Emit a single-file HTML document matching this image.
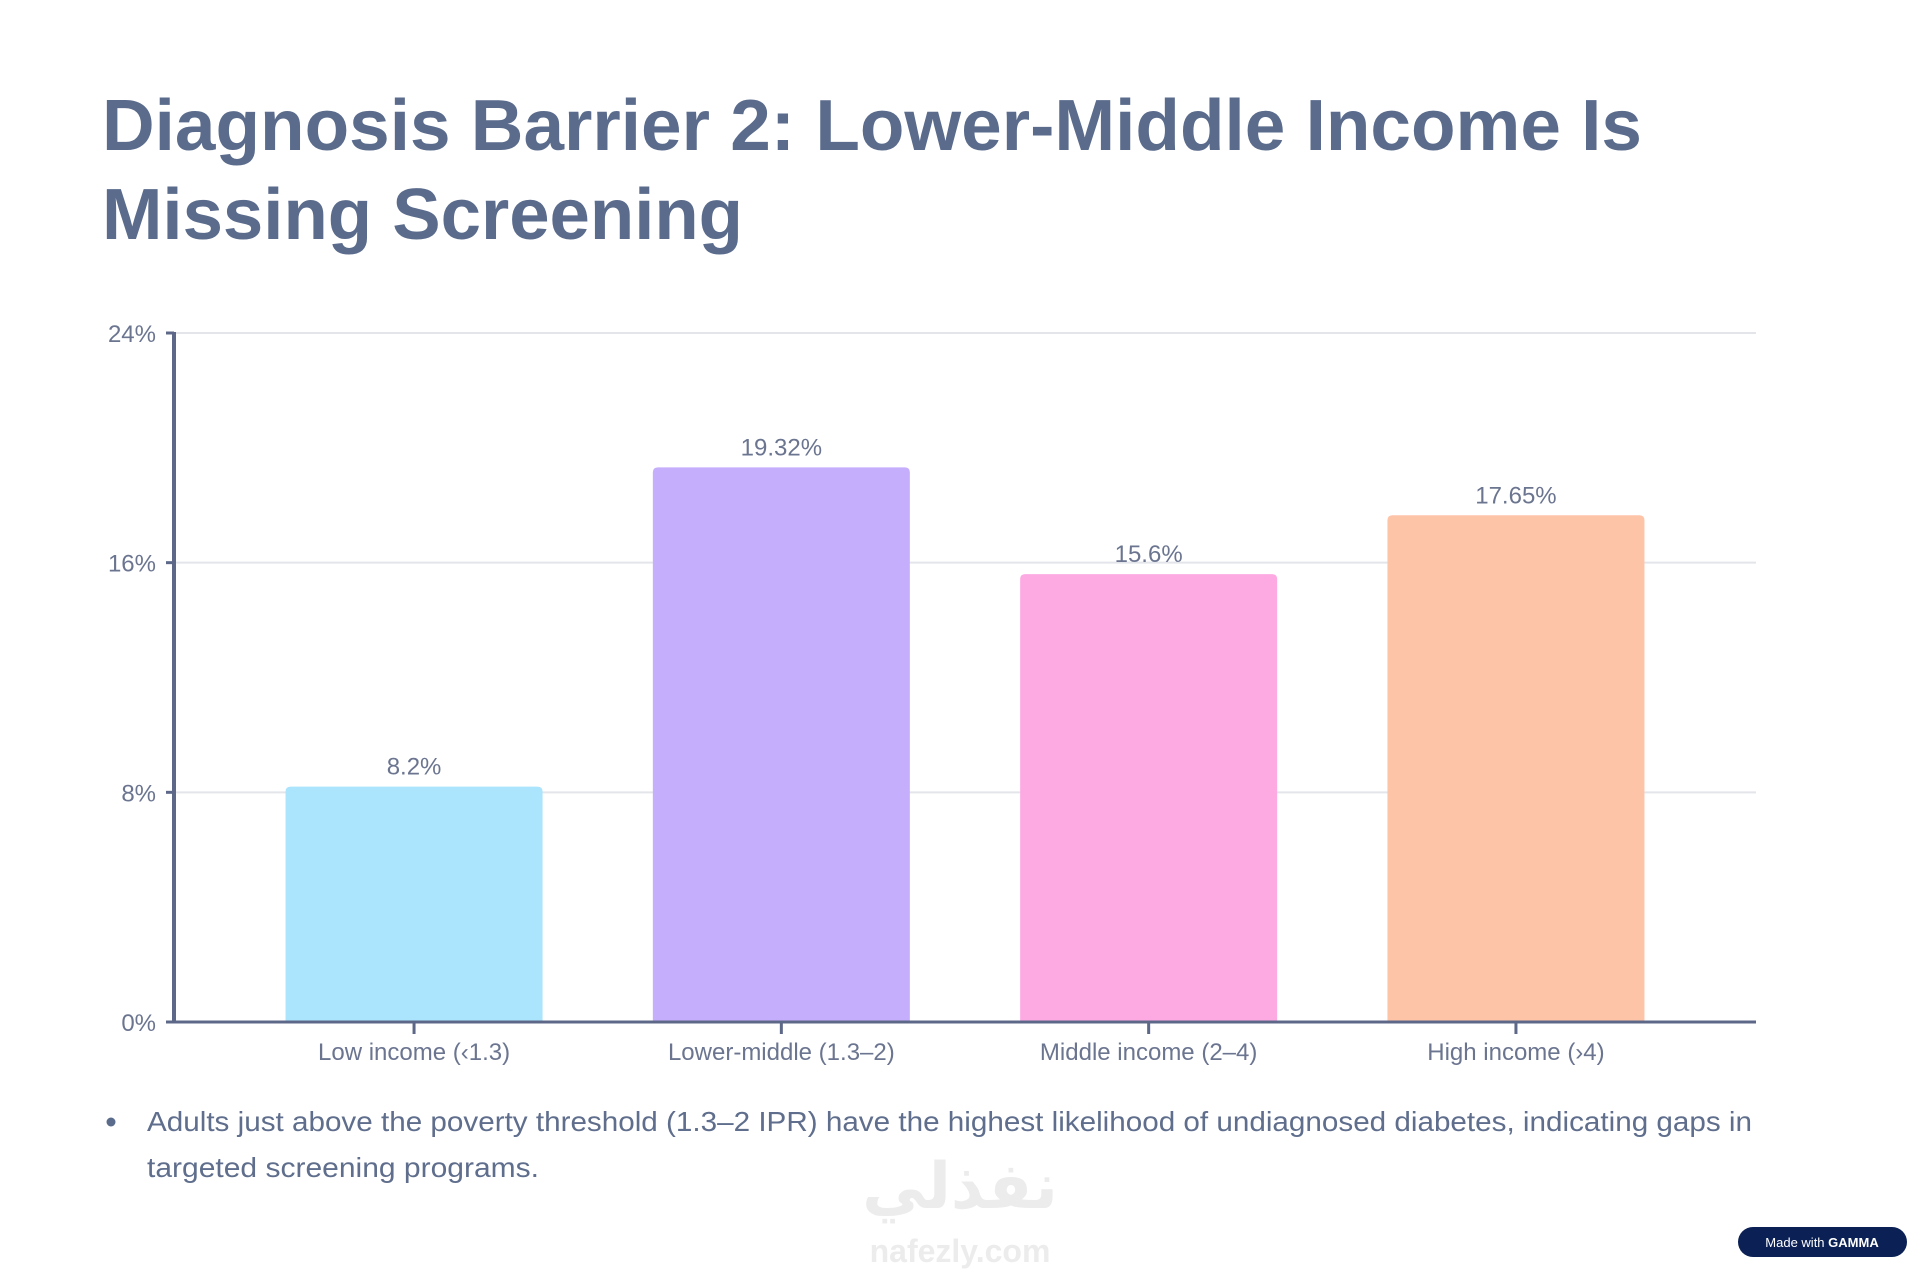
<!DOCTYPE html>
<html><head><meta charset="utf-8"><style>
html,body{margin:0;padding:0;background:#fff;}
svg{display:block;font-family:"Liberation Sans","Noto Sans CJK SC",sans-serif;}
</style></head><body>
<svg id="chart" width="1920" height="1270" viewBox="0 0 1920 1270">
<text x="102" y="150" font-size="72" font-weight="bold" fill="#5a6b8c" textLength="1540" lengthAdjust="spacingAndGlyphs">Diagnosis Barrier 2: Lower-Middle Income Is</text>
<text x="102" y="239" font-size="72" font-weight="bold" fill="#5a6b8c" textLength="641" lengthAdjust="spacingAndGlyphs">Missing Screening</text>
<g id="grid"></g>
<g id="bars"></g>
<g id="axes"></g>
<circle cx="111" cy="1122" r="4.5" fill="#5a6b8c"/>
<text x="147" y="1131" font-size="28" fill="#5f6e8c" textLength="1605" lengthAdjust="spacingAndGlyphs">Adults just above the poverty threshold (1.3–2 IPR) have the highest likelihood of undiagnosed diabetes, indicating gaps in</text>
<text x="147" y="1177" font-size="28" fill="#5f6e8c" textLength="392" lengthAdjust="spacingAndGlyphs">targeted screening programs.</text>
<text x="960" y="1208" font-size="64" font-weight="bold" fill="#ececec" text-anchor="middle" font-family="'DejaVu Sans',sans-serif">نفذلي</text>
<text x="960" y="1262" font-size="32" font-weight="bold" fill="#ececec" text-anchor="middle">nafezly.com</text>
<g>
<rect x="1738" y="1227" width="169" height="30" rx="15" fill="#0b2155"/>
<text x="1822" y="1247" font-size="13" fill="#fff" text-anchor="middle">Made with <tspan font-weight="bold">GAMMA</tspan></text>
</g>
</svg>
<script>
const categories = ["Low income (\u20391.3)", "Lower-middle (1.3\u20132)", "Middle income (2\u20134)", "High income (\u203a4)"];
const values = [8.2, 19.32, 15.6, 17.65];
const valueLabels = ["8.2%", "19.32%", "15.6%", "17.65%"];
const tickValues = [0, 8, 16, 24];
const tickLabels = ["0%", "8%", "16%", "24%"];
const barColors = ["#aae4fd", "#c5aefc", "#fdaae3", "#fdc4a8"];

const NS = "http://www.w3.org/2000/svg";
const X0 = 174, X1 = 1756, Y0 = 1022, Y1 = 333, YMAX = 24;
const band = 367.3;
const pad = ((X1 - X0) - band * categories.length) / 2;
function yScale(v){ return Y0 - (v / YMAX) * (Y0 - Y1); }
function xCenter(i){ return X0 + pad + band * (i + 0.5); }
function mk(tag, attrs, parent){ const e = document.createElementNS(NS, tag); for (const k in attrs) e.setAttribute(k, attrs[k]); parent.appendChild(e); return e; }

const grid = document.getElementById('grid');
const bars = document.getElementById('bars');
const axes = document.getElementById('axes');

tickValues.forEach((t, i) => {
  const y = yScale(t);
  if (t > 0) {
    const g = mk('line', {x1: X0, x2: X1, y1: y, y2: y, stroke: '#e3e5ea', 'stroke-width': 2}, grid);
    
    
  }
  const tk = mk('line', {x1: X0 - 8, x2: X0, y1: y, y2: y, stroke: '#5d6888', 'stroke-width': 3}, axes);
  
  
  const lb = mk('text', {x: X0 - 18, y: y + 9, 'font-size': 24, fill: '#6b7590', 'text-anchor': 'end'}, axes);
  lb.textContent = tickLabels[i];
  
  
});

const bw = 257;
values.forEach((v, i) => {
  const cx = xCenter(i), y = yScale(v);
  const p = mk('path', {d: `M${cx-bw/2},${Y0} V${y+5} Q${cx-bw/2},${y} ${cx-bw/2+5},${y} H${cx+bw/2-5} Q${cx+bw/2},${y} ${cx+bw/2},${y+5} V${Y0} Z`, fill: barColors[i]}, bars);
  
  
  const t = mk('text', {x: cx, y: y - 12, 'font-size': 24, fill: '#6b7590', 'text-anchor': 'middle'}, bars);
  t.textContent = valueLabels[i];
  
  
  const tk = mk('line', {x1: cx, x2: cx, y1: Y0, y2: Y0 + 12, stroke: '#5d6888', 'stroke-width': 3}, axes);
  
  
  const c = mk('text', {x: cx, y: Y0 + 38, 'font-size': 24, fill: '#6b7590', 'text-anchor': 'middle'}, axes);
  c.textContent = categories[i];
  
  
});

const ya = mk('line', {x1: X0, x2: X0, y1: Y1 - 1, y2: Y0 + 1.5, stroke: '#5d6888', 'stroke-width': 4}, axes);


const xa = mk('line', {x1: X0 - 2, x2: X1, y1: Y0, y2: Y0, stroke: '#5d6888', 'stroke-width': 3}, axes);


</script>
</body></html>
